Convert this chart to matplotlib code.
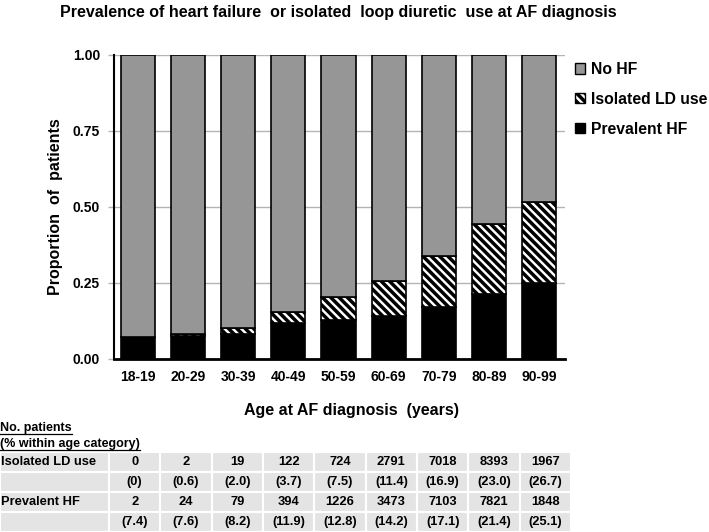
import matplotlib
matplotlib.use("Agg")
import matplotlib.pyplot as plt
import numpy as np
from matplotlib.patches import Patch
from matplotlib.lines import Line2D

plt.rcParams['font.family'] = ['Liberation Sans', 'DejaVu Sans']
plt.rcParams['font.weight'] = 'bold'
plt.rcParams['hatch.linewidth'] = 2.5

ages = ["18-19", "20-29", "30-39", "40-49", "50-59", "60-69", "70-79", "80-89", "90-99"]
ld_n = [0, 2, 19, 122, 724, 2791, 7018, 8393, 1967]
ld_pct = [0, 0.6, 2.0, 3.7, 7.5, 11.4, 16.9, 23.0, 26.7]
hf_n = [2, 24, 79, 394, 1226, 3473, 7103, 7821, 1848]
hf_pct = [7.4, 7.6, 8.2, 11.9, 12.8, 14.2, 17.1, 21.4, 25.1]

hf = np.array(hf_pct) / 100
ld = np.array(ld_pct) / 100
nohf = 1 - hf - ld

grey = '#969696'
W, H = 709, 532
fig = plt.figure(figsize=(W / 100, H / 100), dpi=100)
ax = fig.add_axes([114 / W, 1 - 359 / H, (565 - 114) / W, (359 - 55) / H])

x = np.arange(len(ages))
bw = 0.68
ax.bar(x, hf, bw, color='black', edgecolor='black', linewidth=1.2, zorder=3)
ax.bar(x, ld, bw, bottom=hf, color='white', edgecolor='black', hatch='\\\\\\\\',
       linewidth=1.2, zorder=3)
ax.bar(x, nohf, bw, bottom=hf + ld, color=grey, edgecolor='black', linewidth=1.2, zorder=3)

ax.set_xlim(-0.48, 8.52)
ax.set_ylim(0, 1)
ax.set_yticks([0, 0.25, 0.5, 0.75, 1.0])
ax.set_yticklabels(['0.00', '0.25', '0.50', '0.75', '1.00'], fontsize=10, fontweight='bold')
ax.set_xticks(x)
ax.set_xticklabels(ages, fontsize=10, fontweight='bold')
ax.yaxis.grid(True, color='#b4b4b4', linewidth=1, zorder=0)
ax.set_axisbelow(True)
for s in ['top', 'right']:
    ax.spines[s].set_visible(False)
ax.spines['left'].set_linewidth(1.5)
ax.spines['bottom'].set_linewidth(2)
ax.tick_params(axis='x', length=0, pad=8)
ax.tick_params(axis='y', length=4, width=1, color='#b4b4b4', pad=6)

ax.set_ylabel('Proportion  of  patients', fontsize=11.5, fontweight='bold', labelpad=7)
fig.text(352 / W, 1 - 410 / H, 'Age at AF diagnosis  (years)', ha='center', va='center',
         fontsize=11.5, fontweight='bold')
fig.text(338 / W, 1 - 13 / H, 'Prevalence of heart failure  or isolated  loop diuretic  use at AF diagnosis',
         ha='center', va='center', fontsize=11.5, fontweight='bold')

handles = [Patch(facecolor=grey, edgecolor='black', linewidth=1),
           Patch(facecolor='white', edgecolor='black', hatch='\\\\\\\\', linewidth=1),
           Patch(facecolor='black', edgecolor='black', linewidth=1)]
fig.legend(handles, ['No HF', 'Isolated LD use', 'Prevalent HF'], loc='upper left',
           bbox_to_anchor=(567 / W, 1 - 54 / H), frameon=False, borderpad=0,
           handlelength=0.65, handleheight=0.65, handletextpad=0.35, labelspacing=0.95,
           prop={'size': 11.3, 'weight': 'bold'})

# table
tax = fig.add_axes([0, 0, 571 / W, 80 / H])
tax.axis('off')

def fmt(v):
    return '(0)' if v == 0 else f'({v:.1f})'

rows = [['Isolated LD use'] + [str(v) for v in ld_n],
        [''] + [fmt(v) for v in ld_pct],
        ['Prevalent HF'] + [str(v) for v in hf_n],
        [''] + [fmt(v) for v in hf_pct]]
colw = [109 / 571] + [(571 - 109) / 571 / 9] * 9
tbl = tax.table(cellText=rows, cellColours=[['#e4e4e4'] * 10] * 4, colWidths=colw,
                cellLoc='center', bbox=[0, 0, 1, 1])
tbl.auto_set_font_size(False)
tbl.set_fontsize(9.3)
for (r, c), cell in tbl.get_celld().items():
    cell.set_edgecolor('white')
    cell.set_linewidth(1.5)
    cell.get_text().set_fontweight('bold')
    if c == 0:
        cell.PAD = 0.005
        cell._loc = 'left'
        cell.get_text().set_ha('left')

t1 = fig.text(0, 1 - 428 / H, 'No. patients', ha='left', va='center', fontsize=9, fontweight='bold')
t2 = fig.text(0, 1 - 444 / H, '(% within age category)', ha='left', va='center', fontsize=9,
              fontweight='bold')
fig.canvas.draw()
r = fig.canvas.get_renderer()
for t in (t1, t2):
    bb = t.get_window_extent(r)
    y = (bb.y0 + 0.5) / H
    fig.add_artist(Line2D([bb.x0 / W, bb.x1 / W], [y, y], color='black', linewidth=0.9))

fig.savefig('out.png', dpi=100)
